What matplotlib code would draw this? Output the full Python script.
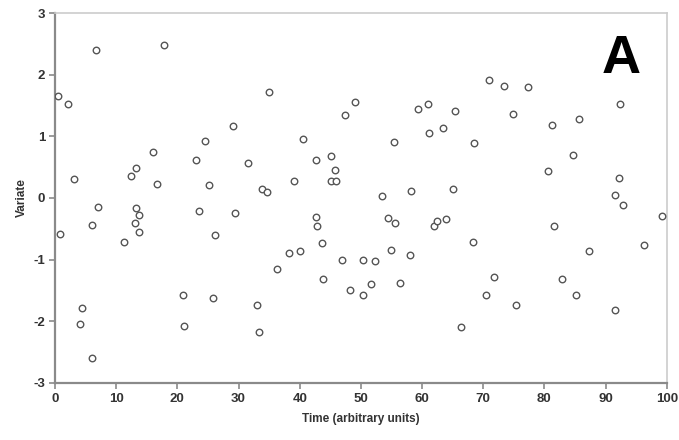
import matplotlib
matplotlib.use("Agg")
import matplotlib.pyplot as plt

# values
time = [0.54, 2.2, 6.7, 3.1, 17.8, 16.0, 13.2, 12.4, 16.7, 24.5,
        23.1, 25.2, 29.1, 35.0, 31.5, 40.6, 42.6, 45.1, 45.8, 45.1,
        45.9, 39.0, 33.8, 34.6, 47.4, 49.1, 55.4, 53.4, 58.2, 59.3,
        61.0, 61.2, 63.4, 65.4, 68.5, 71.0, 73.4, 77.3, 74.9, 81.2,
        85.7, 92.3, 84.7, 80.6, 92.2, 91.5, 65.1, 0.87, 6.0, 7.1,
        13.2, 13.8, 13.0, 13.8, 11.3, 23.5, 26.1, 4.4, 4.1, 6.0,
        20.9, 21.1, 25.8, 29.4, 42.6, 42.9, 43.6, 38.2, 40.0, 36.3,
        43.8, 46.9, 50.3, 52.3, 48.2, 50.3, 51.6, 54.5, 55.6, 55.0,
        56.4, 58.0, 33.1, 33.3, 61.9, 62.5, 63.9, 68.4, 66.4, 71.7,
        70.4, 75.3, 81.5, 87.3, 82.8, 85.1, 91.6, 92.9, 96.2, 99.2]
variate = [1.66, 1.53, 2.40, 0.31, 2.49, 0.75, 0.49, 0.36, 0.22, 0.93,
           0.62, 0.21, 1.17, 1.72, 0.57, 0.96, 0.62, 0.68, 0.45, 0.28,
           0.28, 0.28, 0.15, 0.09, 1.35, 1.56, 0.91, 0.04, 0.11, 1.44,
           1.53, 1.05, 1.13, 1.41, 0.89, 1.92, 1.82, 1.80, 1.36, 1.18,
           1.28, 1.53, 0.69, 0.44, 0.33, 0.05, 0.14, -0.58, -0.44, -0.15,
           -0.17, -0.27, -0.41, -0.55, -0.71, -0.21, -0.60, -1.79, -2.04, -2.60,
           -1.58, -2.07, -1.62, -0.24, -0.31, -0.46, -0.73, -0.89, -0.86, -1.15,
           -1.32, -1.01, -1.01, -1.02, -1.49, -1.57, -1.39, -0.32, -0.41, -0.85,
           -1.38, -0.93, -1.73, -2.18, -0.46, -0.38, -0.34, -0.71, -2.09, -1.28,
           -1.57, -1.74, -0.45, -0.86, -1.31, -1.58, -1.82, -0.12, -0.76, -0.29]
xticks = [0, 10, 20, 30, 40, 50, 60, 70, 80, 90, 100]
yticks = [-3, -2, -1, 0, 1, 2, 3]

plt.rcParams['font.family'] = ['Liberation Sans', 'DejaVu Sans']
plt.rcParams['axes.unicode_minus'] = False

fig = plt.figure(figsize=(6.79, 4.40), dpi=100)
ax = fig.add_axes([0.081, 0.130, 0.901, 0.840])

ax.scatter(time, variate, s=22, facecolors='white', edgecolors='#555555', linewidths=1.0, zorder=3)

ax.set_xlim(0, 100)
ax.set_ylim(-3, 3)
ax.set_xticks(xticks)
ax.set_yticks(yticks)

for side in ['left', 'bottom']:
    ax.spines[side].set_color('#8a8a8a')
    ax.spines[side].set_linewidth(1.6)
for side in ['top', 'right']:
    ax.spines[side].set_color('#cccccc')
    ax.spines[side].set_linewidth(1.2)

ax.tick_params(direction='out', length=4, width=1.2, color='#8a8a8a',
               labelsize=9.5, labelcolor='#333333', pad=3)
for lab in ax.get_xticklabels() + ax.get_yticklabels():
    lab.set_fontweight('bold')

ax.set_xlabel('Time (arbitrary units)', fontsize=8.5, fontweight='bold', color='#333333', labelpad=6)
ax.set_ylabel('Variate', fontsize=8.5, fontweight='bold', color='#333333', labelpad=4)

ax.text(0.926, 0.838, 'A', transform=ax.transAxes, fontsize=39, fontweight='bold',
        ha='center', va='baseline', color='black')

fig.savefig('out.png', dpi=100)
